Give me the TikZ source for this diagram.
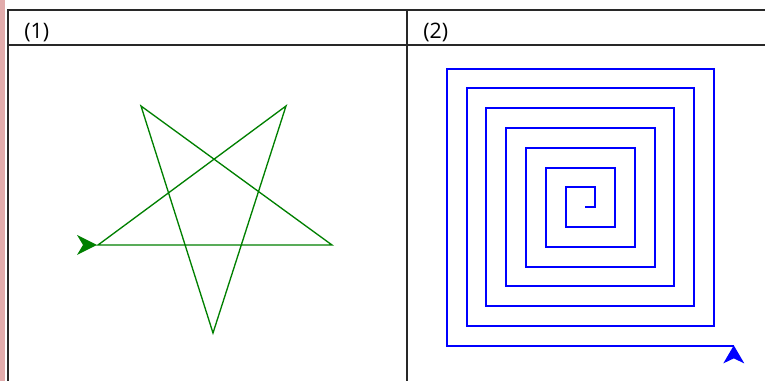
\documentclass[tikz,border=0pt]{standalone}
\usepackage{fontspec}
\setmainfont{Open Sans}
\definecolor{tblline}{RGB}{40,40,40}
\definecolor{pinkbar}{RGB}{226,172,172}
\definecolor{stargreen}{RGB}{0,128,0}
\definecolor{spiralblue}{RGB}{0,0,255}
\begin{document}
\begin{tikzpicture}[x=0.75pt,y=-0.75pt,
  tbl/.style={draw=tblline,line width=1.6pt},
  starline/.style={draw=stargreen,line width=1pt,line join=miter},
  spiralline/.style={draw=spiralblue,line width=1.5pt,line join=miter},
  turtlehead/.style={line width=0pt},
  celltext/.style={anchor=base west,inner sep=0pt,font=\fontsize{16}{19}\selectfont}]
\useasboundingbox (0,0) rectangle (765,381);
\fill[white] (0,0) rectangle (765,381);
% pink side bar
\fill[pinkbar] (0,0) rectangle (5,381);
% table
\draw[tbl] (8,10) -- (765,10);
\draw[tbl] (8,45) -- (765,45);
\draw[tbl] (8,9.2) -- (8,381);
\draw[tbl] (407,9.2) -- (407,381);
\node[celltext] (t1) at (24,38.5) {(1)};
\node[celltext] (t2) at (423,38.5) {(2)};
% star
\coordinate (p0) at (98,245);
\coordinate (p1) at (332,245);
\coordinate (p2) at (141,106);
\coordinate (p3) at (213,333);
\coordinate (p4) at (286,106);
\draw[starline] (p0) -- (p1) -- (p2) -- (p3) -- (p4) -- cycle;
\fill[stargreen,turtlehead] (97,245) -- (77,235) -- (83,245) -- (77,255) -- cycle;
% spiral
\def\st{9.9}
\coordinate (s0) at (585.3,207.3);
\draw[spiralline] (s0)
  \foreach \n in {1,...,29}{
    \pgfextra{\pgfmathsetmacro\len{\n*\st}\pgfmathtruncatemacro\dir{mod(\n-1,4)}}
    \ifcase\dir -- ++(\len,0) \or -- ++(0,-\len) \or -- ++(-\len,0) \or -- ++(0,\len) \fi
  } coordinate (s1);
\fill[spiralblue,turtlehead] (s1) ++(0,-0.5) -- ++(-10.5,18) -- ++(10.5,-5) -- ++(10.5,5) -- cycle;
\end{tikzpicture}
\end{document}
